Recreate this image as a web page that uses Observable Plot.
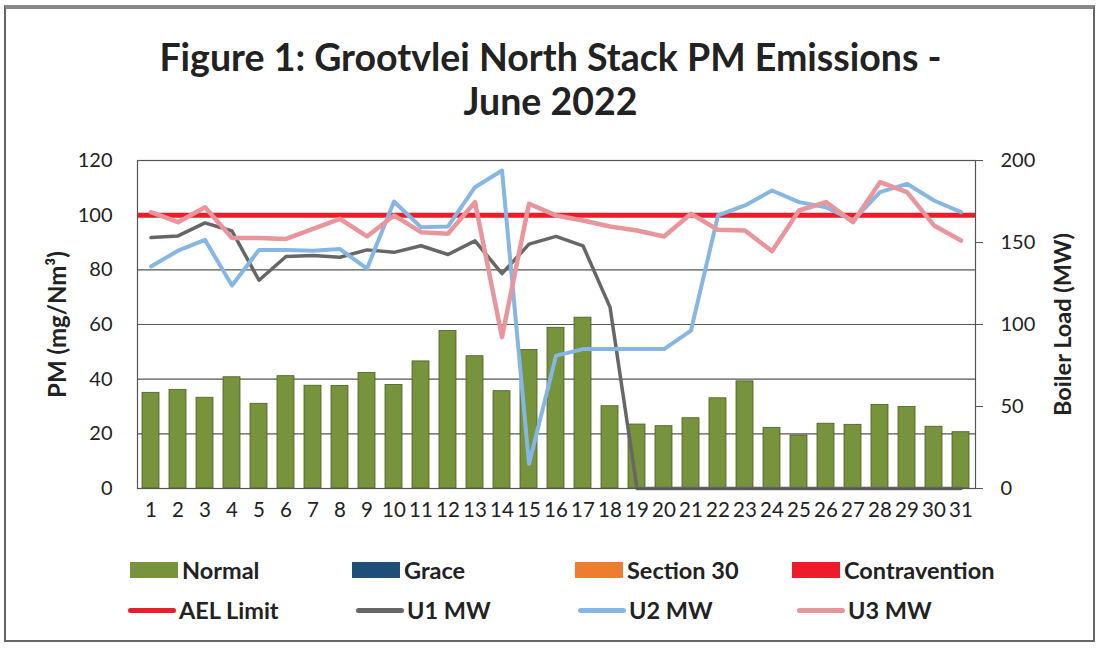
<!DOCTYPE html>
<html>
<head>
<meta charset="utf-8">
<script src="https://cdn.jsdelivr.net/npm/d3@7"></script>
<script src="https://cdn.jsdelivr.net/npm/@observablehq/plot@0.6"></script>
<style>
  html, body { margin: 0; padding: 0; background: #fff; }
  #page { position: relative; width: 1101px; height: 648px; overflow: hidden; font-family: Lato, "Open Sans", sans-serif; color: #222; }
  #frame { position: absolute; left: 4px; top: 5px; width: 1091px; height: 637px; border: 2px solid #666; border-top: 4px solid #888; box-sizing: border-box; }
  #title { position: absolute; left: 0; width: 1101px; top: 35px; text-align: center; font-weight: bold; font-size: 37.5px; line-height: 44px; color: #222; }
  #chart { position: absolute; left: 0; top: 140px; }
  .lg { position: absolute; display: flex; align-items: center; font-weight: bold; font-size: 23.5px; color: #222; }
  .sw { display: inline-block; width: 48px; height: 16px; margin-right: 4px; }
  .ln { display: inline-block; width: 48px; height: 5px; border-radius: 3px; margin-right: 3px; }
</style>
</head>
<body>
<div id="page">
  <div id="frame"></div>
  <div id="title">Figure 1: Grootvlei North Stack PM Emissions -<br>June 2022</div>
  <div id="chart"></div>
  <div id="legend"></div>
</div>
<script>
const days = [1,2,3,4,5,6,7,8,9,10,11,12,13,14,15,16,17,18,19,20,21,22,23,24,25,26,27,28,29,30,31];
const pm = [35,36.1,33.2,40.7,31,41.1,37.6,37.5,42.3,37.9,46.5,57.6,48.4,35.6,50.7,58.8,62.5,30.1,23.4,22.8,25.7,33,39.2,22.2,19.4,23.7,23.3,30.6,29.8,22.6,20.6];
const u1MW = [153,154,162,157,127,141.5,142,141,145.5,144,148,142.7,151,131,149,153.7,148,110.6,0,0,0,0,0,0,0,0,0,0,0,0,0];
const u2MW = [135.4,145,151.6,123.8,145.5,145.5,145,146,134,175,159.3,159.8,183.7,193.9,15,81,85,85,85,85,96.3,166.5,172.6,181.7,174.6,171.5,163.4,180.7,185.8,175.6,168.5];
const u3MW = [168.5,162.4,171.5,152.8,152.8,152.2,158.3,164.4,153.7,166.5,156.3,155.3,174.6,92.3,173.6,166.5,163.4,159.8,157.3,153.7,167.5,157.7,157.3,144.7,169.5,174.6,162.4,186.8,180.7,160.4,151.2];
const aelLimit = 100;
const leftTicks = [0,20,40,60,80,100,120];
const rightTicks = [0,50,100,150,200];
const pmMax = 120, mwMax = 200;

const legendItems = [
  {name: "Normal", color: "#77933c", kind: "bar"},
  {name: "Grace", color: "#1f4e79", kind: "bar"},
  {name: "Section 30", color: "#ed7d31", kind: "bar"},
  {name: "Contravention", color: "#ee1c2a", kind: "bar"},
  {name: "AEL Limit", color: "#ee1c2a", kind: "line"},
  {name: "U1 MW", color: "#666666", kind: "line"},
  {name: "U2 MW", color: "#86b6e4", kind: "line"},
  {name: "U3 MW", color: "#e8959c", kind: "line"}
];

const k = pmMax / mwMax;
const barData = days.map((d, i) => ({day: d, pm: pm[i]}));
const mk = arr => days.map((d, i) => ({day: d, v: arr[i] * k}));

const chart = Plot.plot({
  width: 1101,
  height: 390,
  marginTop: 20,
  marginBottom: 42,
  marginLeft: 137,
  marginRight: 126,
  style: {fontFamily: "Lato, 'Open Sans', sans-serif", fontSize: "20px", color: "#222", background: "transparent"},
  x: {type: "band", domain: days, paddingInner: 0.37, paddingOuter: 0.185},
  y: {domain: [0, pmMax]},
  marks: [
    Plot.gridY(leftTicks, {stroke: "#555", strokeOpacity: 1, strokeWidth: 1.2}),
    Plot.barY(barData, {x: "day", y: "pm", fill: legendItems[0].color, stroke: "#4a5e25", strokeWidth: 0.8}),
    Plot.ruleY([aelLimit], {stroke: legendItems[4].color, strokeWidth: 5}),
    Plot.lineY(mk(u1MW), {x: "day", y: "v", stroke: legendItems[5].color, strokeWidth: 3.5}),
    Plot.lineY(mk(u2MW), {x: "day", y: "v", stroke: legendItems[6].color, strokeWidth: 4}),
    Plot.lineY(mk(u3MW), {x: "day", y: "v", stroke: legendItems[7].color, strokeWidth: 4.5}),
    Plot.frame({stroke: "#555", strokeWidth: 1.2}),
    Plot.axisX({tickSize: 0, tickPadding: 14, label: null, fontSize: 20.5}),
    Plot.axisY(leftTicks, {anchor: "left", tickSize: 0, tickPadding: 25, label: null, fontSize: 20}),
    Plot.axisY(rightTicks.map(d => d * k), {anchor: "right", tickSize: 7, tickPadding: 18, tickFormat: d => String(Math.round(d / k)), label: null, fontSize: 20, stroke: "#555"}),
    Plot.text(["PM (mg/Nm³)"], {frameAnchor: "left", dx: -79, rotate: -90, textAnchor: "middle", fontWeight: "bold", fontSize: 24}),
    Plot.text(["Boiler Load (MW)"], {frameAnchor: "right", dx: 88, rotate: -90, textAnchor: "middle", fontWeight: "bold", fontSize: 23.5})
  ]
});
document.getElementById("chart").appendChild(chart);

const pos = [[130,570],[352,570],[575,570],[792,570],[128,610],[356,610],[578,610],[797,610]];
const legend = document.getElementById("legend");
legendItems.forEach((it, i) => {
  const div = document.createElement("div");
  div.className = "lg";
  div.style.left = pos[i][0] + "px";
  div.style.top = (pos[i][1] - 14) + "px";
  div.style.height = "28px";
  const s = document.createElement("span");
  s.className = it.kind === "bar" ? "sw" : "ln";
  s.style.background = it.color;
  div.appendChild(s);
  div.appendChild(document.createTextNode(it.name));
  legend.appendChild(div);
});
</script>
</body>
</html>
